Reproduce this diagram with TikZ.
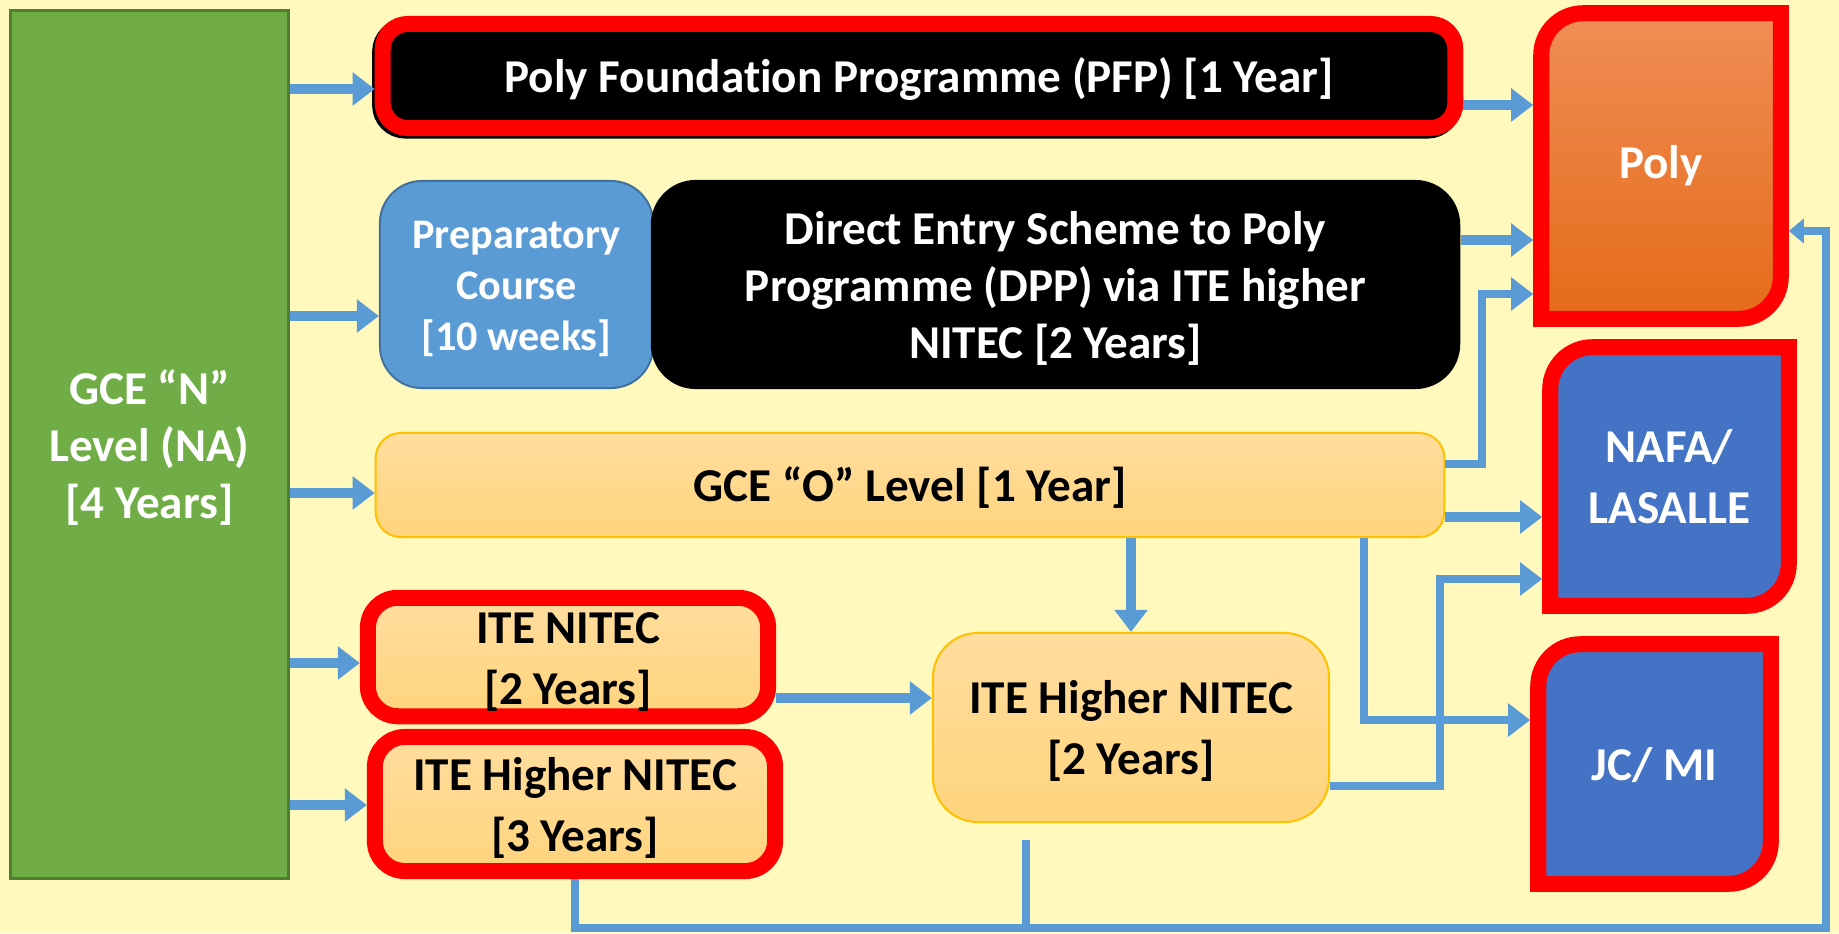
\documentclass[tikz,border=0pt]{standalone}
\usepackage{fontspec}
\setmainfont{Carlito}[Ligatures=NoCommon]
\usetikzlibrary{arrows.meta,backgrounds}

\definecolor{paper}{RGB}{255,249,190}
\definecolor{leaf}{RGB}{112,173,71}
\definecolor{leafdark}{RGB}{80,126,50}
\definecolor{sky}{RGB}{91,155,213}
\definecolor{skydark}{RGB}{65,113,156}
\definecolor{royal}{RGB}{68,114,196}
\definecolor{peachtop}{RGB}{255,221,158}
\definecolor{peachbot}{RGB}{255,212,125}
\definecolor{gold}{RGB}{255,192,0}
\definecolor{polytop}{RGB}{241,141,86}
\definecolor{polybot}{RGB}{228,107,24}

\newcommand{\ls}{\rule[-0.25em]{0pt}{1.22em}}

\newcommand{\cornerframe}[2]{%
	\draw [draw=red, line width=0.16cm, #2]
		([xshift=0.08cm, yshift=-0.5cm]#1.north west) arc[start angle=180, end angle=90, radius=0.42cm]
		-- ([xshift=-0.08cm, yshift=-0.08cm]#1.north east)
		-- ([xshift=-0.08cm, yshift=0.5cm]#1.south east) arc[start angle=0, end angle=-90, radius=0.42cm]
		-- ([xshift=0.08cm, yshift=0.08cm]#1.south west) -- cycle;}

\begin{document}
\begin{tikzpicture}[x=0.01cm, y=0.01cm,
	box/.style={align=center, inner sep=0pt, font=\fontsize{13.4}{16.3}\selectfont\bfseries},
	smallfont/.style={font=\fontsize{12}{14.5}\selectfont\bfseries},
	greenbox/.style={box, draw=leafdark, line width=0.03cm, fill=leaf, text=white},
	bluebox/.style={box, draw=skydark, line width=0.02cm, fill=sky, text=white, rounded corners=0.42cm},
	blackbox/.style={box, fill=black, text=white, rounded corners=0.45cm},
	peachbox/.style={box, draw=gold, line width=0.02cm, top color=peachtop, bottom color=peachbot, text=black},
	redbox/.style={box, draw=red, line width=0.16cm},
	flow/.style={color=sky, line width=0.1cm, -{Triangle[length=0.22cm, width=0.32cm]}},
	elbow/.style={flow, line width=0.08cm},
	feedback/.style={color=sky, line width=0.075cm, -{Triangle[length=0.15cm, width=0.24cm]}}]

	\useasboundingbox (0,0) rectangle (1839,-933);

	\node [greenbox, minimum width=2.78cm, minimum height=8.68cm] (gce) at (149.5,-444.5) {\ls GCE “N”\\Level (NA)\\\ls[4 Years]};
	\node [redbox, fill=black, text=white, rounded corners=0.25cm, minimum width=10.72cm, minimum height=1.04cm,
		preaction={draw=black, line width=0.16cm, transform canvas={shift={(-0.025cm,-0.025cm)}}}] (pfp) at (919,-76) {\ls Poly Foundation Programme (PFP) [1 Year]};
	\node [bluebox, smallfont, minimum width=2.73cm, minimum height=2.07cm] (prep) at (516.5,-284.5) {\ls Preparatory\\Course\\\ls[10 weeks]};
	\node [blackbox, minimum width=8.09cm, minimum height=2.09cm] (dpp) at (1055.5,-284.5) {\ls Direct Entry Scheme to Poly\\Programme (DPP) via ITE higher\\\ls NITEC [2 Years]};
	\node [peachbox, rounded corners=0.25cm, minimum width=10.68cm, minimum height=1.04cm] (olvl) at (910,-485) {\ls GCE “O” Level [1 Year]};
	\node [peachbox, redbox, rounded corners=0.3cm, minimum width=4.0cm, minimum height=1.16cm] (nitec) at (568,-657) {\ls ITE NITEC\\\ls[2 Years]};
	\node [peachbox, redbox, rounded corners=0.3cm, minimum width=4.0cm, minimum height=1.34cm] (hn3) at (575,-804) {\ls ITE Higher NITEC\\\ls[3 Years]};
	\node [peachbox, rounded corners=0.45cm, minimum width=3.96cm, minimum height=1.89cm] (hn2) at (1131,-727.5) {\ls ITE Higher NITEC\\\ls[2 Years]};
	\node [box, text=white, minimum width=2.54cm, minimum height=3.2cm] (poly) at (1661,-166) {Poly};
	\node [box, text=white, minimum width=2.53cm, minimum height=2.73cm] (nafa) at (1669.5,-476.5) {\ls NAFA/\\\ls LASALLE};
	\node [box, text=white, minimum width=2.47cm, minimum height=2.54cm] (jc) at (1654.5,-764) {\ls JC/ MI};

	\begin{scope}[on background layer]
		\fill [paper] (0,0) rectangle (1839,-933);
		\cornerframe{poly}{top color=polytop, bottom color=polybot}
		\cornerframe{nafa}{fill=royal}
		\cornerframe{jc}{fill=royal}
	\end{scope}

	\path [flow] (gce.east |- 0,-89) edge (pfp.west |- 0,-89);
	\path [flow] (gce.east |- 0,-316) edge (prep.west |- 0,-316);
	\path [flow] (gce.east |- 0,-493) edge (olvl.west |- 0,-493);
	\path [flow] (gce.east |- 0,-663) edge (nitec.west |- 0,-663);
	\path [flow] (gce.east |- 0,-805) edge (hn3.west |- 0,-805);
	\path [flow] (pfp.east |- 0,-105) edge (poly.west |- 0,-105);
	\path [flow] (dpp.east |- 0,-240) edge (poly.west |- 0,-240);
	\path [flow] (olvl.east |- 0,-517) edge (nafa.west |- 0,-517);
	\path [flow] (olvl.south -| hn2.north) edge (hn2.north);
	\path [flow] (nitec.east |- 0,-698) edge (hn2.west |- 0,-698);

	\draw [elbow] (olvl.east |- 0,-464) -| (1482,-294) -- (poly.west |- 0,-294);
	\draw [elbow] (olvl.south -| 1364,0) |- (jc.west |- 0,-720);
	\draw [elbow] (hn2.east |- 0,-786) -| (1440,-579) -- (nafa.west |- 0,-579);

	\coordinate (corner) at (1826,-928);
	\coordinate (drop) at ([xshift=-1.05cm, yshift=-0.17cm]hn2.south);
	\draw [feedback] (hn3.south) |- (corner) |- (poly.east |- 0,-231);
	\draw [feedback, -] (drop) -- (drop |- corner);
\end{tikzpicture}
\end{document}
